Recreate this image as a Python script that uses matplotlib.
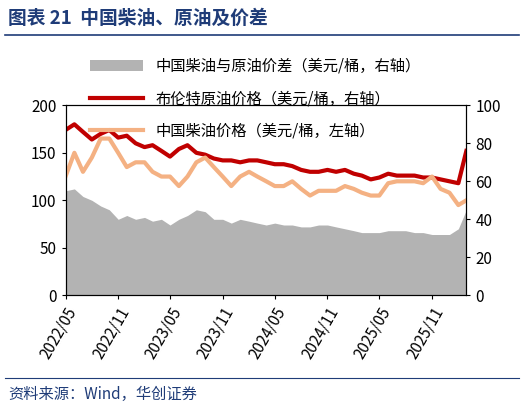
import numpy as np
import pandas as pd
import matplotlib
matplotlib.use("Agg")
import matplotlib.pyplot as plt
import matplotlib.dates as mdates

plt.rcParams['font.family'] = ['Noto Sans CJK SC', 'DejaVu Sans']

# monthly readings, 2022/05 .. 2026/03
dates = pd.date_range("2022-05-01", periods=47, freq="MS")
brent = [87, 90, 86, 82, 85, 87, 83, 84, 80, 78, 79, 76, 73, 77, 79, 75, 74, 72, 71, 71,
         70, 71, 71, 70, 69, 69, 68, 66, 65, 65, 66, 65, 66, 64, 63, 61, 62, 64, 63, 63,
         63, 62, 62, 61, 60, 59, 76]
diesel = [125, 150, 130, 145, 165, 165, 150, 135, 140, 140, 130, 125, 125, 115, 125, 140,
          145, 135, 125, 115, 125, 130, 125, 120, 115, 115, 120, 112, 105, 110, 110, 110,
          115, 112, 108, 105, 105, 118, 120, 120, 120, 118, 125, 112, 108, 95, 100]
spread = [55, 56, 52, 50, 47, 45, 40, 42, 40, 41, 39, 40, 37, 40, 42, 45, 44, 40, 40, 38,
          40, 39, 38, 37, 38, 37, 37, 36, 36, 37, 37, 36, 35, 34, 33, 33, 33, 34, 34, 34,
          33, 33, 32, 32, 32, 35, 45]

fig = plt.figure(figsize=(5.24, 4.13), dpi=100)
ax = fig.add_axes([0.125, 0.285, 0.765, 0.46])
ax2 = ax.twinx()

ax2.fill_between(dates, spread, color="#b3b3b3", lw=0, label="中国柴油与原油价差（美元/桶，右轴）")
ax2.plot(dates, brent, color="#c00000", lw=3, label="布伦特原油价格（美元/桶，右轴）")
ax.plot(dates, diesel, color="#f4b183", lw=3, label="中国柴油价格（美元/桶，左轴）")
ax.set_zorder(ax2.get_zorder() + 1)
ax.patch.set_visible(False)

ax.set_ylim(0, 200)
ax.set_yticks(range(0, 201, 50))
ax2.set_ylim(0, 100)
ax2.set_yticks(range(0, 101, 20))
ax.set_xlim(dates[0], dates[-1])
ticks = pd.date_range("2022-05-01", "2025-11-01", freq="6MS")
ax.set_xticks(ticks)
ax.xaxis.set_major_formatter(mdates.DateFormatter("%Y/%m"))
plt.setp(ax.get_xticklabels(), rotation=60, ha="right", rotation_mode="anchor")
for a in (ax, ax2):
    a.tick_params(labelsize=11, length=3)
    for s in a.spines.values():
        s.set_color("#000000")

h2, l2 = ax2.get_legend_handles_labels()
h1, l1 = ax.get_legend_handles_labels()
leg = fig.legend(h2 + h1, l2 + l1, loc="upper left", bbox_to_anchor=(0.16, 0.875),
                 frameon=False, fontsize=11, handlelength=3.5, labelspacing=1.0,
                 borderaxespad=0)
leg.set_zorder(10)

fig.text(0.015, 0.955, "图表 21  中国柴油、原油及价差", fontsize=13.5, fontweight="bold",
         color="#1f3c78", va="center")
fig.add_artist(plt.Line2D([0.01, 0.99], [0.915, 0.915], color="#1f3c78", lw=1.2))
fig.add_artist(plt.Line2D([0.01, 0.99], [0.085, 0.085], color="#1f3c78", lw=0.8))
fig.text(0.015, 0.045, "资料来源：Wind，华创证券", fontsize=11, style="italic",
         color="#1f3c78", va="center")

fig.savefig("out.png", dpi=100)
